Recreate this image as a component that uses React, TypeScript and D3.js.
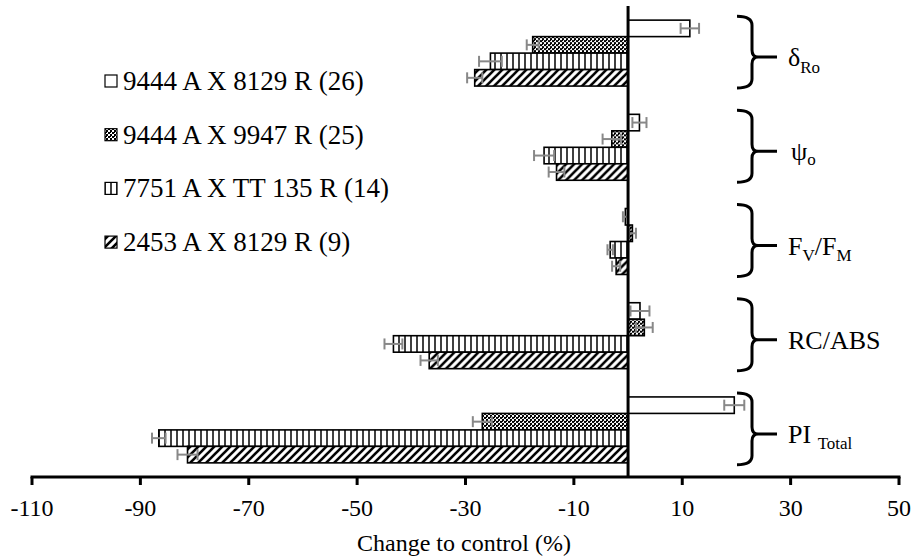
import React from "react";
import { scaleLinear, scaleBand } from "d3";

const width = 915;
const height = 557;

// parameters, top to bottom
const params = ["dRo", "psio", "FvFm", "RCABS", "PI"];
const series = ["s26", "s25", "s14", "s9"];
const seriesNames = [
  "9444 A X 8129 R (26)",
  "9444 A X 9947 R (25)",
  "7751 A X TT 135 R (14)",
  "2453 A X 8129 R (9)",
];
const fills = ["white", "url(#checks)", "url(#vlines)", "url(#diag)"];

// change to control (%), order = params
const vals26 = [11.4, 2.1, -0.5, 2.2, 19.6];
const err26 = [1.7, 1.3, 0.45, 1.75, 1.85];
const vals25 = [-17.6, -3.0, 0.8, 3.0, -26.9];
const err25 = [1.1, 1.7, 0.65, 1.55, 1.75];
const vals14 = [-25.4, -15.5, -3.3, -43.3, -86.6];
const err14 = [2.1, 1.85, 0.5, 1.65, 1.25];
const vals9 = [-28.3, -13.2, -2.2, -36.7, -81.3];
const err9 = [1.4, 1.45, 0.75, 1.6, 1.85];

const allVals = [vals26, vals25, vals14, vals9];
const allErr = [err26, err25, err14, err9];

const xTicks = [-110, -90, -70, -50, -30, -10, 10, 30, 50];

const x = scaleLinear().domain([-110, 50]).range([32, 899]);
const y = scaleBand().domain(params).range([6, 477]).paddingInner(0.3).paddingOuter(0.15);
const yInner = scaleBand().domain(series).range([0, y.bandwidth()]);

const font = "'Liberation Serif', 'Times New Roman', serif";

const Brace = ({ top, bottom, tip }) => {
  const x0 = 737, x1 = 752, xt = 777;
  const d = `M${x0},${top} Q${x1},${top} ${x1},${top + 9} L${x1},${tip - 7} Q${x1},${tip} ${x1 + 6},${tip} L${xt},${tip}
    M${x1 + 6},${tip} Q${x1},${tip} ${x1},${tip + 7} L${x1},${bottom - 9} Q${x1},${bottom} ${x0},${bottom}`;
  return <path d={d} fill="none" stroke="black" strokeWidth={3} />;
};

const ParamLabel = ({ p, yc }) => {
  const lx = 788;
  const base = yc + 9;
  if (p === "dRo")
    return (
      <text x={lx} y={base} fontSize={26}>
        δ<tspan fontSize={17} dy={7}>Ro</tspan>
      </text>
    );
  if (p === "psio")
    return (
      <text x={lx + 3} y={base} fontSize={26}>
        ψ<tspan fontSize={17} dy={5}>o</tspan>
      </text>
    );
  if (p === "FvFm")
    return (
      <text x={lx} y={base} fontSize={26}>
        F<tspan fontSize={17} dy={6}>V</tspan>
        <tspan dy={-6}>/F</tspan>
        <tspan fontSize={17} dy={6}>M</tspan>
      </text>
    );
  if (p === "RCABS")
    return (
      <text x={lx} y={base} fontSize={26}>
        RC/ABS
      </text>
    );
  return (
    <text x={lx} y={base} fontSize={26}>
      PI <tspan fontSize={17} dy={6}>Total</tspan>
    </text>
  );
};

export default function App() {
  const x0 = x(0);
  return (
    <svg
      width={width}
      height={height}
      style={{ position: "absolute", left: 0, top: 0, background: "white" }}
      fontFamily={font}
    >
      <defs>
        <pattern id="checks" width={4} height={4} patternUnits="userSpaceOnUse">
          <rect width={4} height={4} fill="white" />
          <rect x={0} y={0} width={2} height={2} fill="black" />
          <rect x={2} y={2} width={2} height={2} fill="black" />
          <rect x={2} y={0} width={1} height={1} fill="black" />
        </pattern>
        <pattern id="vlines" width={6} height={6} patternUnits="userSpaceOnUse">
          <rect width={6} height={6} fill="white" />
          <line x1={3} y1={0} x2={3} y2={6} stroke="black" strokeWidth={1.5} />
        </pattern>
        <pattern id="diag" width={8} height={8} patternUnits="userSpaceOnUse">
          <rect width={8} height={8} fill="white" />
          <path d="M-2,2 L2,-2 M0,8 L8,0 M6,10 L10,6" stroke="black" strokeWidth={2.6} />
        </pattern>
      </defs>

      {/* bars */}
      {params.map((p, i) => (
        <g key={p} transform={`translate(0,${y(p)})`}>
          {series.map((s, j) => {
            const v = allVals[j][i];
            const e = allErr[j][i];
            const by = yInner(s);
            const bh = yInner.bandwidth();
            const cy = by + bh / 2;
            return (
              <g key={s}>
                <rect
                  x={Math.min(x(v), x0)}
                  y={by}
                  width={Math.abs(x(v) - x0)}
                  height={bh}
                  fill={fills[j]}
                  stroke="black"
                  strokeWidth={1.6}
                />
                <g stroke="#888" strokeWidth={2}>
                  <line x1={x(v - e)} x2={x(v + e)} y1={cy} y2={cy} />
                  <line x1={x(v - e)} x2={x(v - e)} y1={cy - 5.5} y2={cy + 5.5} />
                  <line x1={x(v + e)} x2={x(v + e)} y1={cy - 5.5} y2={cy + 5.5} />
                </g>
              </g>
            );
          })}
        </g>
      ))}

      {/* zero line */}
      <line x1={x0} x2={x0} y1={6} y2={477} stroke="black" strokeWidth={3} />

      {/* x axis */}
      <line x1={x(-110) - 1.5} x2={x(50) + 1.5} y1={477} y2={477} stroke="black" strokeWidth={3} />
      {xTicks.map((t) => (
        <g key={t}>
          <line x1={x(t)} x2={x(t)} y1={477} y2={485} stroke="black" strokeWidth={3} />
          <text x={x(t)} y={516} textAnchor="middle" fontSize={24}>
            {t}
          </text>
        </g>
      ))}
      <text x={464} y={551} textAnchor="middle" fontSize={24}>
        Change to control (%)
      </text>

      {/* braces and parameter labels */}
      {params.map((p) => {
        const top = y(p);
        const bottom = top + y.bandwidth();
        const yc = (top + bottom) / 2 + 4;
        return (
          <g key={p}>
            <Brace top={top - 4} bottom={bottom + 2} tip={yc} />
            <ParamLabel p={p} yc={yc} />
          </g>
        );
      })}

      {/* legend */}
      {seriesNames.map((n, j) => {
        const ly = 81 + j * 53.7;
        return (
          <g key={n}>
            <rect x={105} y={ly - 6} width={12} height={12} fill={fills[j]} stroke="black" strokeWidth={1.2} />
            <text x={123} y={ly + 9} fontSize={27}>
              {n}
            </text>
          </g>
        );
      })}
    </svg>
  );
}
